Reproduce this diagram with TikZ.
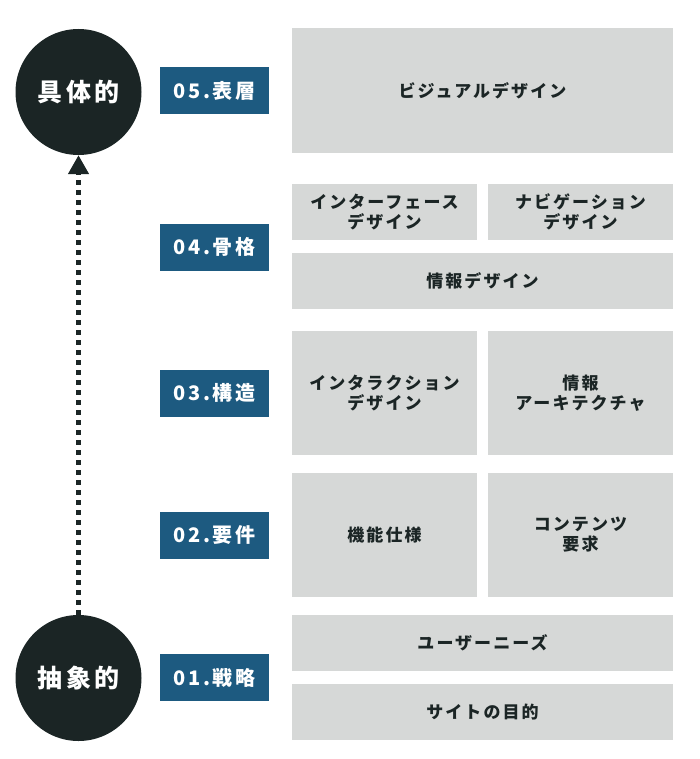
\documentclass[tikz,border=0pt]{standalone}
\usepackage{fontspec}
\setmainfont{Noto Sans CJK JP}
\newfontfamily\jpwide{Noto Sans CJK JP}[LetterSpace=14]
\newfontfamily\jppanel{Noto Sans CJK JP}[LetterSpace=12]
\usetikzlibrary{positioning,arrows.meta}
\definecolor{darkgreen}{HTML}{1B2525}
\definecolor{levelblue}{HTML}{1D5A80}
\definecolor{panelgray}{HTML}{D6D8D7}

\begin{document}
\begin{tikzpicture}[x=1pt, y=-1pt,
    ends/.style={circle, fill=darkgreen, minimum size=126pt, inner sep=0pt,
                 text=white, font=\jpwide\fontsize{25}{25}\selectfont\bfseries},
    level/.style={fill=levelblue, minimum width=109pt, minimum height=47pt, inner sep=0pt,
                  text=white, font=\jpwide\fontsize{20}{20}\selectfont\bfseries},
    panel/.style={fill=panelgray, inner sep=0pt, align=center, text=darkgreen,
                  font=\jppanel\fontsize{17}{20}\selectfont\bfseries},
    half/.style={panel, minimum width=185pt},
    wide/.style={panel, minimum width=381pt},
    arr/.style={-{Triangle[width=20pt, length=19pt]}, line width=4.5pt,
                dash pattern=on 5pt off 5pt, darkgreen}
  ]
    \useasboundingbox (0,0) rectangle (700,759);
    % ends of the scale
    \node[ends] (concrete) at (78.5,92) {具体的};
    \node[ends] (abstract) at (78.5,678) {抽象的};
    \draw[arr] (abstract) -- (concrete);
    % level labels
    \node[level] (l5) at (214.5,90.5) {05.表層};
    \node[level] (l4) at (214.5,247) {04.骨格};
    \node[level] (l3) at (214.5,393) {03.構造};
    \node[level] (l2) at (214.5,535) {02.要件};
    \node[level] (l1) at (214.5,677.5) {01.戦略};
    % panels
    \node[wide, minimum height=125pt] (visual) at (482.5,90.5) {ビジュアルデザイン};
    \node[half, minimum height=56pt] (iface) at (384.5,212) {インターフェース\\デザイン};
    \node[half, minimum height=56pt] (navi) at (580.5,212) {ナビゲーション\\デザイン};
    \node[wide, minimum height=56pt] (infodes) at (482.5,281) {情報デザイン};
    \node[half, minimum height=124pt] (interact) at (384.5,393) {インタラクション\\デザイン};
    \node[half, minimum height=124pt] (infoarch) at (580.5,393) {情報\\アーキテクチャ};
    \node[half, minimum height=124pt] (spec) at (384.5,535) {機能仕様};
    \node[half, minimum height=124pt] (content) at (580.5,535) {コンテンツ\\要求};
    \node[wide, minimum height=56pt] (needs) at (482.5,643) {ユーザーニーズ};
    \node[wide, minimum height=56pt] (goal) at (482.5,712) {サイトの目的};
  \end{tikzpicture}
\end{document}
